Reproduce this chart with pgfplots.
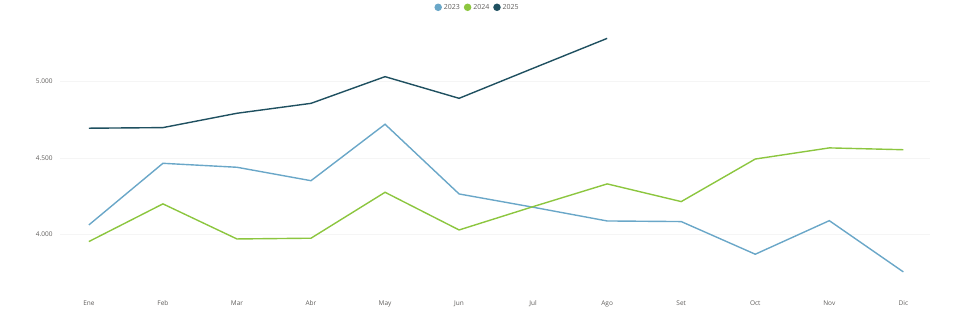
\documentclass[border=0pt]{standalone}
\usepackage{pgfplots}
\pgfplotsset{compat=1.18}
\usepackage{fontspec}
\setmainfont{Open Sans}
\definecolor{c23}{HTML}{6AA7C8}
\definecolor{c24}{HTML}{8CC63F}
\definecolor{c25}{HTML}{1F5060}
\definecolor{lbl}{HTML}{605E5C}
\begin{document}
\begin{tikzpicture}
\path[use as bounding box] (-60pt,-30pt) rectangle (900pt,280pt);
\begin{axis}[
  at={(0,0)}, anchor=south west,
  scale only axis, width=870pt, height=251.7pt,
  xmin=-0.39, xmax=11.36, ymin=3700, ymax=5350,
  axis line style={draw=none},
  xtick={0,...,11},
  xticklabels={Ene,Feb,Mar,Abr,May,Jun,Jul,Ago,Set,Oct,Nov,Dic},
  ytick={4000,4500,5000},
  major tick length=0pt,
  tick style={draw=none},
  ymajorgrids, grid style={color=black!4, line width=0.6pt},
  tick label style={font=\fontsize{6.5}{7}\selectfont, text=lbl},
  xticklabel style={yshift=-17pt},
  yticklabel style={xshift=-4pt},
  /pgf/number format/.cd, 1000 sep={.}, assume math mode=true,
  /pgfplots/.cd,
  legend columns=3,
  legend style={at={(0.48,1)}, anchor=center, yshift=21pt, draw=none, fill=none,
    font=\fontsize{7}{8}\selectfont, text=lbl,
    /tikz/every even column/.append style={column sep=2pt}},
  legend image code/.code={\fill[#1] (0.14cm,0cm) circle (3pt);},
  every axis plot/.append style={line width=1.4pt},
]
\addplot[c23, mark=none] coordinates {(0,4061)(1,4465)(2,4439)(3,4351)(4,4721)(5,4264)(6,4177)(7,4087)(8,4083)(9,3869)(10,4089)(11,3753)};
\addlegendentry{2023}
\addplot[c24, mark=none] coordinates {(0,3952)(1,4199)(2,3969)(3,3974)(4,4275)(5,4028)(6,4181)(7,4330)(8,4214)(9,4493)(10,4566)(11,4554)};
\addlegendentry{2024}
\addplot[c25, mark=none] coordinates {(0,4695)(1,4699)(2,4793)(3,4858)(4,5033)(5,4891)(6,5088)(7,5284)};
\addlegendentry{2025}
\end{axis}
\end{tikzpicture}
\end{document}
